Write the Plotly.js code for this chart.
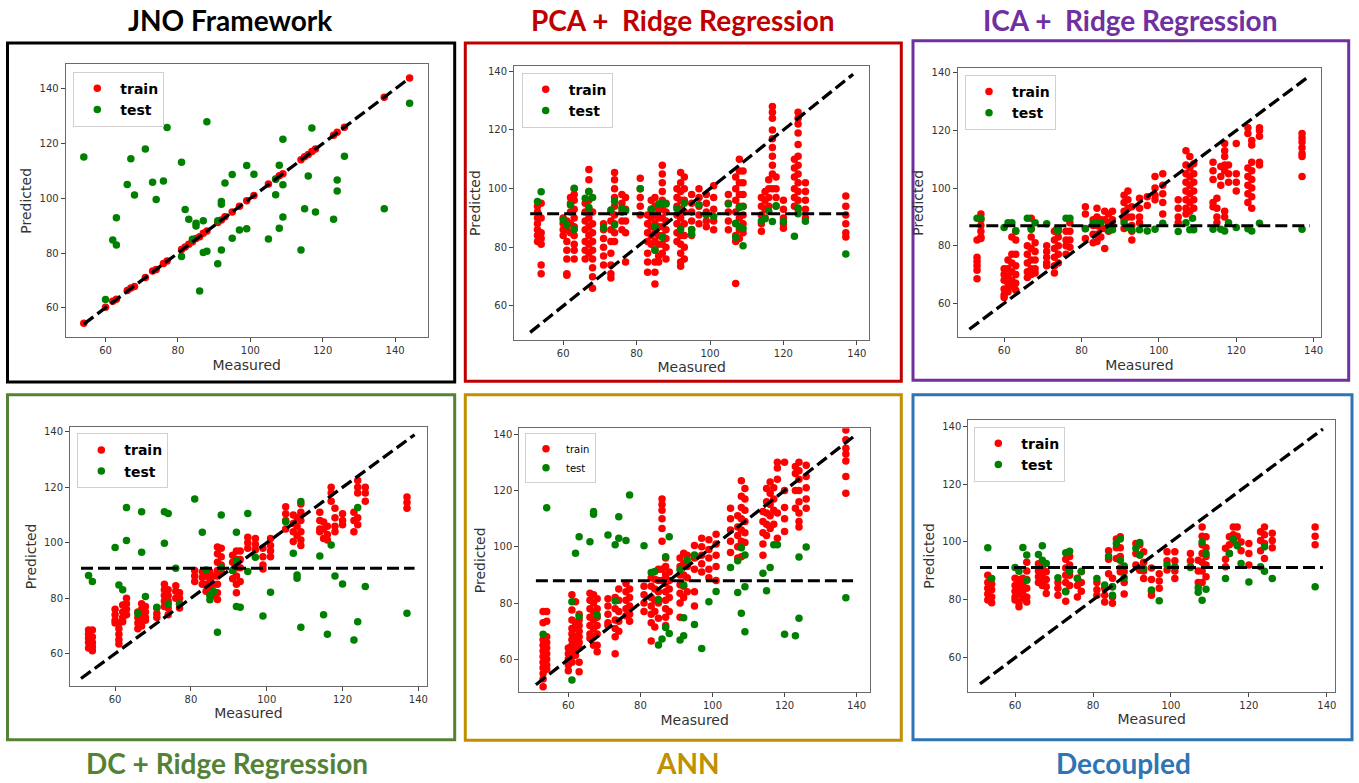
<!DOCTYPE html>
<html><head><meta charset="utf-8">
<script src="https://cdn.plot.ly/plotly-3.0.1.min.js"></script>
<style>html,body{margin:0;padding:0;background:#fff;} #chart{width:1359px;height:783px;}</style>
</head><body><div id="chart"></div>
<script>
// ---------------- DATA ----------------
const panelTitles = ['JNO Framework', 'PCA +\u00a0 Ridge Regression', 'ICA +\u00a0 Ridge Regression', 'DC + Ridge Regression', 'ANN', 'Decoupled'];
const axisTitleX = 'Measured';
const axisTitleY = 'Predicted';
const tickVals = [60, 80, 100, 120, 140];
const seriesNames = ['train', 'test'];

// JNO Framework
const jnoTrainX = [54,60,62,63,66,67,68,71,73,74,76,77,81,82,83,84,85,86,87,88,91,92,93,95,97,99,101,105,107,108,109,114,115,116,117,118,123,124,126,137,144];
const jnoTrainY = [54.3,60.2,62.4,63.1,66.3,67.2,67.8,71.1,73.4,74.0,76.2,77.1,81.3,82.2,83.2,84.1,85.3,86.0,87.2,88.1,91.2,92.1,93.3,95.0,97.1,99.1,101.0,105.2,107.1,108.3,109.0,114.1,115.2,116.0,117.1,118.0,123.1,124.2,126.0,137.0,144.0];
const jnoTestX = [54,60,62,63,63,66,67,68,71,73,74,76,77,81,81,82,83,84,85,85,86,87,87,88,88,91,91,92,92,92,93,95,95,97,99,99,101,105,107,107,108,108,109,109,109,114,115,116,117,118,123,124,124,126,137,144];
const jnoTestY = [115.1,63,84.8,82.9,92.9,105.1,114.5,101.2,118,105.9,99.6,106.3,125.9,113.2,78.7,95.9,92.4,85,90.9,89.9,66.1,91.8,80.2,80.7,128,76.1,91.8,81.1,98.8,97.8,105.6,108.7,85.4,88.4,112,88.9,108.8,85.1,101.3,107,112.1,89.1,121.6,105,93.2,81.1,96.2,108.2,125.7,95,92.4,102.7,106.7,115.4,96.2,134.8];
const jnoRefLine = [54, 144];

// Shared measured-value columns for the column-clustered panels
const colX = [53,54,60,61,62,63,66,67,68,71,73,74,76,77,81,83,84,85,86,87,88,91,92,93,95,97,99,101,105,107,108,109,114,115,116,117,118,120,123,124,126,137];
const refLine = [51, 139];

// PCA + Ridge Regression
const pcaTrainY = [
[94,92,90,88,86,84,82],[95,90,85,83,81,74,71],[90,88,86,84],[89,86,82,79,76,71,70.5],[97,95,92,88,85],
[100,98,96,93,90,87,84,81,79,76],[95,92,89,86,82,79,76],[106.5,103,99,96,93,90,87,84,81,78],[92,88,85,82,79,76,73,70,66],
[88,86,83,80,77,74],[92,89,86,82,78,74,71,69.5],[105.5,103,100,97,94,91,88,85,82],[98,95,92,89,86],[97,93,89,85,75],
[103.5,100,97,94,91],[91,88,85,82,78,75,71.5],[96,93,90,87,84,81],[97,94,91,88,85,82,79,75,71.5,67.5],[93,90,87,84,81,77,75],
[108,105,102,99,96,93,90,87,84,81,78],[95,92,89,86,83,80,76],[100,97,94,91,88,85,82],[105.5,102,99,96,93,90,87,84,81,78,75,73.5],
[104,100,96,92,88,84,80,76],[98,95,92,89,86,84],[100,97,94,91,88],[98,95,92,89,87],[101,97,93,89,86],[98,95,92,89,86],
[104,100,96,92,88,84,82,67.7],[110,106,102,98,94,90,86,83],[106,102,98,94,91,88,85],[97,94,91,88,85.5],[99,96,93,90],
[103,100,97,94],[128,126,124,120,117,114,111,108,105,100],[104,100,97,94],[96,93,90,88,86.5],[110,107,104,100,97,94],
[126,124,122,119,115,111,108,105,102,99,96,93],[102,99,96,93,90],[97.5,94,91,88,85,83.5]];
const pcaTestX = [53,54,60,61,62,63,63,66,67,67,68,71,73,74,74,76,77,81,84,85,85,86,87,87,88,91,92,93,95,95,97,99,101,105,107,107,108,108,109,109,109,114,115,116,117,118,120,123,124,124,126,137];
const pcaTestY = [95.6,98.9,89.3,87.6,94.4,100.1,86.1,96.7,99,93.6,97,86.7,92.7,95.7,87.6,93.3,92.5,100,93,87,79.1,94.8,83.4,95,94.8,93.1,86.1,95,86.1,84.5,94.5,91,90.5,94.8,88.2,83.4,93.6,87,93.9,86.4,80.5,89,89.7,92.3,88.8,94.2,88.8,83.8,93.4,91.4,88.9,77.7];
const pcaMeanLevel = 91.4;

// ICA + Ridge Regression
const icaTrainY = [
[82,76,74.5,73,71.5,68.5],[91,89,87,85,83,82.5],[72,70,68,65,63,62],[75,72,69.5,67,65,64],[83,77,74,71,68,66],
[85,82,77,73,70,67,64.5],[80,77,74,71,69],[89.5,86,83,79,75,72,70],[81,78,75,72,70.5],[80,78,76,74,73],
[85,82,79,76,73,70.5],[86,83,80,77,74],[85,82,80,77],[88,85,82,79.5],[93.5,91,86,82.5],[89,87,84,81],
[93,90,87,84,81.5],[89,86,83],[92,89,86,79],[91,88,85],[92,89,87],[97.5,95,92,89,86],[99,96,93,90,86.5],
[93.5,90,87,85,82],[96.5,93,90,88],[97,94],[104,100,97.5,96],[105,101,98,95,91],[96,93,90,88],
[113,108,105,102,99,96,93,91],[111,107,104,101,98,95,92],[108.5,105,102,99,96,93],[109,106,103,95,93.5],
[96.5,93,90,88],[107.5,104,101],[115.5,113,111,108,106,92,90],[108,105,102],[115.5,105,102,99],
[121,119,107,104,101,98,95],[116.5,115,109,106,103,100,97,93],[121,120,118,109,108],[119,117.5,116,114,112,111,104]];
const icaTestX = [53,54,60,61,62,63,66,67,68,71,73.6,74,76,77,81,83,84,85,87,88,91,92,93,95,97,99,101,105,107,108,108.7,109,114,116,117,118,120,123,124,126,137];
const icaTestY = [89.5,89.5,86.3,88,88,85.2,89.5,85.7,88,87.6,85.7,85.1,89.5,89.5,85.9,87.8,87.8,88,85.5,85.5,88,86.3,85.5,85.5,85.1,85.7,87.8,84.9,88,85.5,89.5,85.5,85.7,85.7,85.1,88,86.3,85.9,85.1,87.8,85.7];
const icaMeanLevel = 86.9;

// DC + Ridge Regression
const dcTrainY = [
[68.5,67,65.5,64,62],[68.5,66,64,62.5,61],[76,74,72,71],[71,69,67,65,63.5],[77.5,75,73,71.5],[80,78,76,74],
[75,73,71,69],[78,76,74,72,70],[77,75,73,72],[76.5,74.5,73],[85,83,81,79,77],[83,81,79,76.5,74],[84.5,82.5,80],
[82,80,78,76.5],[90,88,86],[89.5,87.5,85],[88,85,82.5],[89.5,87,84],[88,85,81],[98.5,96,93,90,88,85,82,79.5],
[98,95,92,89.5],[95.5,93,90,87],[97,94,91,88,85,82],[97,94,91,86],[102,100,98],[101.5,99.5,97.5],[98,95,92,90.5],
[101.5,99,97,95],[113,110.5,108,105],[110,107,104,100.5],[109,106,102.5],[114,111,108,104,101,99],[111,108,105,104],
[107.5,105,101.5],[106,103,101],[120,118,115],[112.5,109,106,104],[110.5,108,106.5],[111,108,104],
[122.5,120,118,109,106.5],[120,118,115],[116.5,114.5,112.5]];
const dcTestX = [53,54,60,61,62,63,63,66,67,67,68,71,73,74,73,74,76,77,81,83,84,85,85,86,87,88,88,91,92,92,92,93,95,95,97,99,101,105,107,108,108,109,109,114,115,116,117,118,120,123,124,124,126,137];
const dcTestY = [88.2,86,98.3,84.8,83,112.7,100.8,74.6,111.2,96.6,80.6,76.7,111.2,110.6,99.8,77.9,90.8,77.9,115.8,103.8,90.2,79.4,81,82.4,67.7,110,91,90,103.8,93.4,77,76.7,110.6,89.6,94.8,73.6,82.1,107.6,96.2,88.4,87.2,114.9,69.5,95.2,74,67,99.2,88,85.1,64.9,112.7,71.5,84.2,74.6];
const dcMeanLevel = 90.8;

// ANN
const annTrainY = [
[77,73,67,65,63,61,59,57,55,53,50.3],[77,73.5,68,66,64,62,60,58,56.5],[64,62,60,58,56],[83,77.5,74,71,69,67,65,63,61,59],
[80.5,73,71,68,66,64,61.5],[76,74,72,70,68,66,64,59,55.6],[83.5,81,78,75,72,69,67.5],[83,80,77,74,71,68,65],
[81.5,78,75,72,69,65,62.7],[81.5,79,76,73,72],[82,78,74,71,68,62],[85,81,77,73.5,70],[87,84,81,78,75.5],
[85,82,79,76,73.5],[86,83,80,77],[89,86,82,79,76,73,66.5],[88.5,85,81,77,71.5],[92,88,84,80,74.6],
[117,115,113,110,106.5,102,92,88],[96,93,90,87,84,81,78,75,72],[91,88,85,82,77],[96,93,90,86.5,83.5,80,75],
[97.7,94,90,86,82],[97,93,89,84],[100.5,96,92,84,79],[103,100,97,94,91],[102.5,99,96,92,89],[104.5,101,97,93,88],
[113.7,110,106,102,98],[111,107,104,100,96],[123.5,118,114,110,106,102,96.5],[120.7,117,113,109,105,101.5],
[112.5,109,105,101,97],[120.7,116,112,108,104],[123,119,115,111,106.5],[121,117,113,108],[130,128,124,112,103],
[130,120,114,110,105.4],[128.5,126,120,113.7],[130,127,124,120,116,112,109,107],[129,125,121,117,113.7],
[141.5,138,135,133,130.5,125,119]];
const annTestX = [53,54,61,61,62,63,63,66,67,67,68,71,73,73,74,74,76,77,81,83,84,85,85,86,87,87,88,88,91,91,92,92,93,92,95,95,97,99,101,105,107,107,108,108,109,109,109,114,115,116,117,118,120,123,124,124,126,137];
const annTestY = [68.9,113.9,52.7,80.5,97.7,103.6,75.2,101.8,112.5,111.6,75.8,104.2,100.7,80.7,110.7,103,102.2,118.4,100.4,90.9,91.2,81.3,65.1,67.2,96.5,71.3,103.6,69.2,91.8,66.9,86.4,68.4,95.3,74.8,97.1,72.4,63.9,80.5,84.1,92.6,83.8,95,99.7,76.4,97.1,85.8,69.8,90.6,84.4,92.6,100.7,100.7,68.9,68.4,96.4,74.6,99.9,81.9];
const annMeanLevel = 87.9;

// Decoupled
const decTrainY = [
[88.5,86,84,82,80],[85.5,83.5,81,79],[87.5,85,83,81,80],[87,84.5,82,79,77.6],[87.5,85,83,80.5],[93,90,87,84,81,79.3],
[92.5,90,88,86],[91.5,89,87,85],[89.7,87,84.5,82.2],[86,84,81.6],[94,91,88.5,86,83,79.5],[95,92,88.5,85],[87.5,85,81],
[89.7,86,83],[86,83.5,81.6],[84,81.6,79.3],[97,94,89],[87.5,84.5,81,78.8],[101,98,94.3],[101.8,98,95,91,89.7],
[89.7,86,82],[99.5,96,92],[99,95.5,91,90.2],[96.6,93,90,87.4],[91,87,83,81.6],[89,86.5,84],[96.6,93.5,90.3],
[96.6,93.5,90,87.4],[96,93.5,91.4],[93.7,90,86],[105.2,102,99,96,93,90,86],[101.8,98,95,92,88],[97.8,94,91.4],
[101.8,99,96],[105.2,102.5,100],[105.2,102,99],[100,97],[99.5,96,92],[103.5,100.5,97],[105.2,102.5,99.5,94.3],
[103,100.5,98],[105.2,102,99]];
const decTestX = [53,54,60,61,62,63,63,66,67,67,68,71,73,73,74,74,76,77,81,83,84,85,85,86,87,87,88,88,91,92,92,93,95,97,99,101,105,107,107,108,108,109,109,114,115,116,117,118,120,123,124,124,126,137];
const decTestY = [98,87.4,91.2,89.9,98.1,95.5,86.8,95.7,98.7,93.7,92.6,87.6,96.3,82.8,96.8,89.9,87.4,89.9,87.4,85.1,95.1,84.5,81.6,99.5,101,93.7,91.7,87.6,97.8,99.8,95.5,90.8,83.4,79.7,92,91.4,91.2,84.2,82.6,100,79.9,96,83.7,87.4,96,100.9,98.7,92.6,86.2,91.4,89.9,98.3,87.4,84.5];
const decMeanLevel = 91.2;

// ---------------- HELPERS ----------------
function expandX(xs, ys) { const out = []; xs.forEach((x, i) => ys[i].forEach(() => out.push(x))); return out; }
function expandY(ys) { return [].concat(...ys); }

const panels = [
  {trainX: jnoTrainX, trainY: jnoTrainY, testX: jnoTestX, testY: jnoTestY, line: jnoRefLine, level: null,
   dx: [65.7, 427.7], dy: [64.3, 337.3], rx: [49, 149], ry: [49.2, 149], lg: [73.3, 71.7], lfs: 14, lbold: true, iw: 36,
   frame: [7.5, 43, 454.7, 382], color: '#000000', title: [230, 20]},
  {trainX: expandX(colX, pcaTrainY), trainY: expandY(pcaTrainY), testX: pcaTestX, testY: pcaTestY, line: refLine, level: pcaMeanLevel,
   dx: [514, 869.3], dy: [66, 340], rx: [46.6, 143.4], ry: [48.4, 141.8], lg: [521.7, 72.7], lfs: 14, lbold: true, iw: 36,
   frame: [465.3, 43, 901.3, 381.3], color: '#C00000', title: [682.7, 20]},
  {trainX: expandX(colX, icaTrainY), trainY: expandY(icaTrainY), testX: icaTestX, testY: icaTestY, line: refLine, level: icaMeanLevel,
   dx: [957.7, 1321], dy: [68.3, 337.3], rx: [48.0, 141.9], ry: [48.2, 141.6], lg: [965, 75], lfs: 14, lbold: true, iw: 36,
   frame: [913, 40.7, 1348.7, 380.3], color: '#7030A0', title: [1130, 20]},
  {trainX: expandX(colX, dcTrainY), trainY: expandY(dcTrainY), testX: dcTestX, testY: dcTestY, line: refLine, level: dcMeanLevel,
   dx: [70, 426.7], dy: [426.7, 686], rx: [48.1, 142.2], ry: [48.3, 141.9], lg: [77.3, 433.3], lfs: 14, lbold: true, iw: 36,
   frame: [7.5, 394.7, 454.7, 739.7], color: '#548235', title: [226.7, 763]},
  {trainX: expandX(colX, annTrainY), trainY: expandY(annTrainY), testX: annTestX, testY: annTestY, line: refLine, level: annMeanLevel,
   dx: [519.3, 870], dy: [428.3, 692.3], rx: [46.4, 143.7], ry: [48.3, 142.1], lg: [525, 433.3], lfs: 10, lbold: false, iw: 30,
   frame: [465.3, 394.7, 901.3, 740.3], color: '#BF9000', title: [687.7, 763]},
  {trainX: expandX(colX, decTrainY), trainY: expandY(decTrainY), testX: decTestX, testY: decTestY, line: refLine, level: decMeanLevel,
   dx: [968.3, 1335], dy: [420, 691.7], rx: [48.0, 142.1], ry: [48.3, 142.1], lg: [974.3, 426.7], lfs: 14, lbold: true, iw: 36,
   frame: [913, 394.7, 1352, 739.7], color: '#2E75B6', title: [1123.3, 763]}
];

const W = 1359, H = 783;
const px = v => v / W;
const py = v => 1 - v / H;

const traces = [];
const layout = {
  width: W, height: H, margin: {l: 0, r: 0, t: 0, b: 0},
  paper_bgcolor: '#ffffff', plot_bgcolor: '#ffffff',
  font: {family: 'DejaVu Sans, sans-serif', color: '#333'},
  showlegend: true, shapes: [], annotations: []
};

panels.forEach((p, i) => {
  const n = i === 0 ? '' : String(i + 1);
  const xa = 'x' + n, ya = 'y' + n;
  const lgName = 'legend' + n;
  const mk = {size: 7.5, line: {width: 0}};
  traces.push({type: 'scatter', mode: 'markers', x: p.trainX, y: p.trainY, xaxis: xa, yaxis: ya, name: seriesNames[0],
    marker: Object.assign({color: '#ff0000'}, mk), legend: lgName, hoverinfo: 'skip'});
  traces.push({type: 'scatter', mode: 'markers', x: p.testX, y: p.testY, xaxis: xa, yaxis: ya, name: seriesNames[1],
    marker: Object.assign({color: '#008000'}, mk), legend: lgName, hoverinfo: 'skip'});
  if (p.level !== null) {
    traces.push({type: 'scatter', mode: 'lines', x: p.line, y: [p.level, p.level], xaxis: xa, yaxis: ya, showlegend: false,
      line: {color: '#000', width: 3, dash: '12px,5px'}, hoverinfo: 'skip'});
  }
  traces.push({type: 'scatter', mode: 'lines', x: p.line, y: p.line, xaxis: xa, yaxis: ya, showlegend: false,
    line: {color: '#000', width: 3.3, dash: '12px,5px'}, hoverinfo: 'skip'});

  const axCommon = {showgrid: false, zeroline: false, showline: true, linecolor: '#6a6a6a', linewidth: 1, mirror: true,
    ticks: 'outside', ticklen: 4, tickcolor: '#444', tickvals: tickVals, tickfont: {size: 10, color: '#333'}};
  layout['xaxis' + n] = Object.assign({}, axCommon, {domain: [px(p.dx[0]), px(p.dx[1])], range: p.rx, anchor: ya,
    title: {text: axisTitleX, font: {size: 14, color: '#333'}, standoff: 4}});
  layout['yaxis' + n] = Object.assign({}, axCommon, {domain: [py(p.dy[1]), py(p.dy[0])], range: p.ry, anchor: xa,
    title: {text: axisTitleY, font: {size: 14, color: '#333'}, standoff: 4}});
  layout[lgName] = {x: px(p.lg[0]), y: py(p.lg[1]), xanchor: 'left', yanchor: 'top', bgcolor: '#ffffff',
    bordercolor: '#d0d0d0', borderwidth: 1, itemwidth: p.iw,
    font: {size: p.lfs, color: '#000', weight: p.lbold ? 'bold' : 'normal'}};

  const f = p.frame;
  layout.shapes.push({type: 'rect', xref: 'paper', yref: 'paper', x0: px(f[0]), x1: px(f[2]), y0: py(f[3]), y1: py(f[1]),
    line: {color: p.color, width: 3}, fillcolor: 'rgba(0,0,0,0)', layer: 'above'});
  layout.annotations.push({xref: 'paper', yref: 'paper', x: px(p.title[0]), y: py(p.title[1]), xanchor: 'center', yanchor: 'middle',
    text: panelTitles[i], showarrow: false, font: {family: 'Lato, sans-serif', size: 28, color: p.color, weight: 'bold'}});
});

Plotly.newPlot('chart', traces, layout, {staticPlot: true, displayModeBar: false});
</script></body></html>
